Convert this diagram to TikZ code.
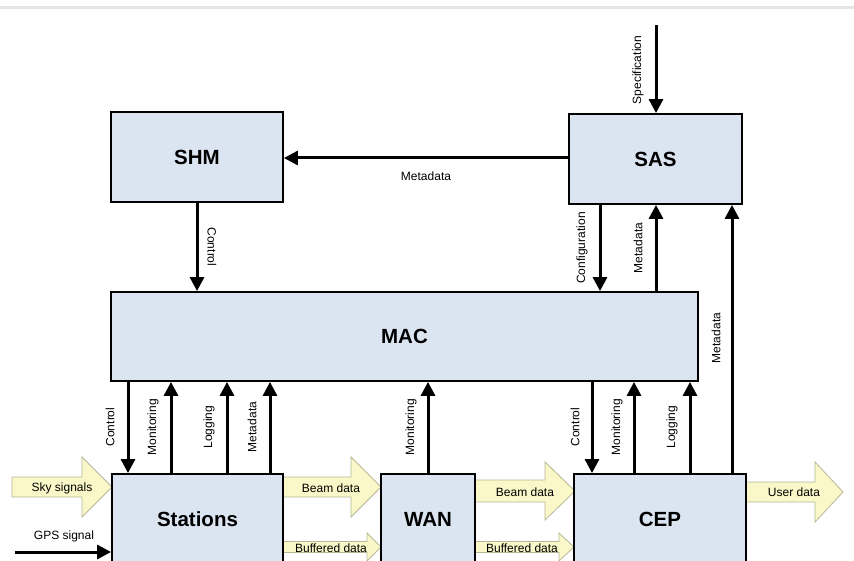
\documentclass[tikz,border=0pt]{standalone}
\usepackage{fontspec}
\setmainfont{Liberation Sans}
\usetikzlibrary{arrows.meta}
\definecolor{boxblue}{HTML}{DBE5F1}
\definecolor{fatfill}{HTML}{FAF7C8}
\definecolor{fatline}{HTML}{B8B898}
\newcommand\fatarr[6]{\draw[fat] (#1,{#3-#4}) -- ({#2-#6},{#3-#4}) -- ({#2-#6},{#3-#5}) -- (#2,#3) -- ({#2-#6},{#3+#5}) -- ({#2-#6},{#3+#4}) -- (#1,{#3+#4}) -- cycle;}
\begin{document}
\begin{tikzpicture}[x=1pt,y=-1pt,
  blk/.style={draw=black, line width=1.8pt, fill=boxblue, font=\fontsize{20.5}{24}\selectfont\bfseries, inner sep=0pt},
  arr/.style={line width=3pt, -{Triangle[width=14pt,length=14pt]}},
  lbl/.style={font=\fontsize{12}{14}\selectfont, inner sep=0pt},
  fat/.style={draw=fatline, line width=0.8pt, fill=fatfill, line join=miter}]
\useasboundingbox (0,0) rectangle (854,561);
\fill[white] (0,0) rectangle (854,561);
\clip (0,0) rectangle (854,561);
\draw[line width=3pt, black!10] (0,8) -- (854,8);

% fat arrows
\fatarr{12}{112}{487}{10}{30}{30}
\fatarr{283}{381}{487}{10}{30}{30}
\fatarr{475}{575}{491}{11}{29}{30}
\fatarr{746}{843}{492}{10}{30}{28}
\fatarr{283}{381}{547}{5.5}{14}{14}
\fatarr{475}{574}{547}{5.5}{14}{15}

% boxes
\node[blk, minimum width=172pt, minimum height=90pt] (SHM) at (197,157) {SHM};
\node[blk, minimum width=173pt, minimum height=90pt] (SAS) at (655.5,159) {SAS};
\node[blk, minimum width=587pt, minimum height=89pt] (MAC) at (404.5,336.5) {MAC};
\node[blk, minimum width=171pt, minimum height=90pt] (ST) at (197.5,519) {Stations};
\node[blk, minimum width=94pt, minimum height=90pt] (WAN) at (428,519) {WAN};
\node[blk, minimum width=172pt, minimum height=90pt] (CEP) at (660,519) {CEP};

% arrows
\coordinate (spec) at (656,25);
\draw[arr] (spec) -- (spec |- SAS.north);
\draw[arr] (SAS.west |- 0,158) -- (SHM.east |- 0,158);
\draw[arr] (SHM.south -| 197,0) -- (MAC.north -| 197,0);
\draw[arr] (SAS.south -| 600,0) -- (MAC.north -| 600,0);
\draw[arr] (MAC.north -| 656,0) -- (SAS.south -| 656,0);
\draw[arr] (CEP.north -| 732,0) -- (SAS.south -| 732,0);
\draw[arr] (MAC.south -| 128,0) -- (ST.north -| 128,0);
\draw[arr] (ST.north -| 171,0) -- (MAC.south -| 171,0);
\draw[arr] (ST.north -| 227,0) -- (MAC.south -| 227,0);
\draw[arr] (ST.north -| 270,0) -- (MAC.south -| 270,0);
\draw[arr] (WAN.north -| 428,0) -- (MAC.south -| 428,0);
\draw[arr] (MAC.south -| 592,0) -- (CEP.north -| 592,0);
\draw[arr] (CEP.north -| 634,0) -- (MAC.south -| 634,0);
\draw[arr] (CEP.north -| 690,0) -- (MAC.south -| 690,0);
\coordinate (gps) at (15,552);
\draw[arr] (gps) -- (ST.west |- gps);

% labels
\node[lbl, rotate=90] (lspec) at (638,70) {Specification};
\node[lbl] (lmeta1) at (426,176) {Metadata};
\node[lbl, rotate=-90] (lctl1) at (212,247) {Control};
\node[lbl, rotate=90] (lconf) at (582,248) {Configuration};
\node[lbl, rotate=90] (lmeta2) at (638,248) {Metadata};
\node[lbl, rotate=90] (lmeta3) at (716,338) {Metadata};
\node[lbl, rotate=90] (lctl2) at (110,427) {Control};
\node[lbl, rotate=90] (lmon1) at (153,427) {Monitoring};
\node[lbl, rotate=90] (llog1) at (209,427) {Logging};
\node[lbl, rotate=90] (lmeta4) at (252,427) {Metadata};
\node[lbl, rotate=90] (lmon2) at (411,427) {Monitoring};
\node[lbl, rotate=90] (lctl3) at (575,427) {Control};
\node[lbl, rotate=90] (lmon3) at (617,427) {Monitoring};
\node[lbl, rotate=90] (llog2) at (672,427) {Logging};
\node[lbl] (lsky) at (62,488) {Sky signals};
\node[lbl] (lgps) at (64,536) {GPS signal};
\node[lbl] (lbeam1) at (331,488) {Beam data};
\node[lbl] (lbeam2) at (525,492) {Beam data};
\node[lbl] (luser) at (794,492) {User data};
\node[lbl] (lbuf1) at (331,548) {Buffered data};
\node[lbl] (lbuf2) at (522,548) {Buffered data};
\end{tikzpicture}
\end{document}
